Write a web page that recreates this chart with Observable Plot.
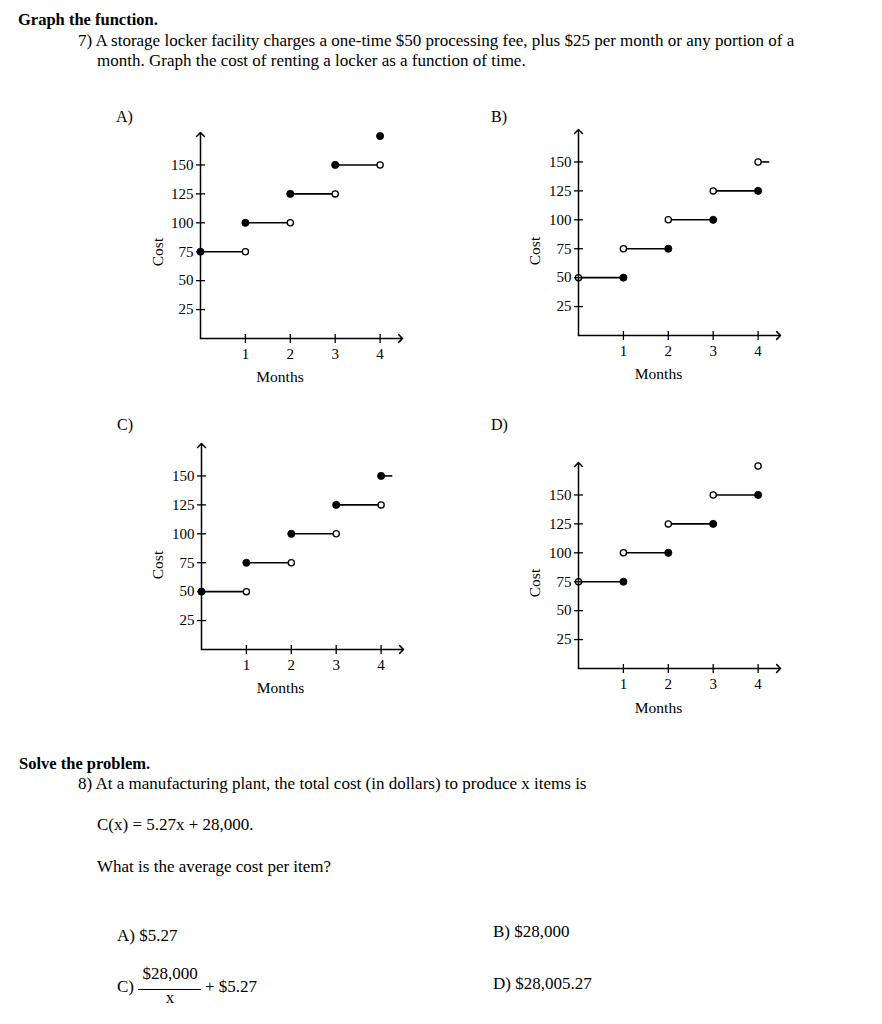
<!DOCTYPE html>
<html><head><meta charset="utf-8">
<script src="https://cdn.jsdelivr.net/npm/d3@7"></script>
<script src="https://cdn.jsdelivr.net/npm/@observablehq/plot@0.6"></script>
<style>
body{margin:0;background:#fff;}
#page{position:relative;width:882px;height:1024px;overflow:hidden;background:#fff;font-family:"Liberation Serif","Times New Roman",serif;color:#000;}
.t{position:absolute;white-space:nowrap;line-height:0;}
.c{position:absolute;white-space:nowrap;transform:translate(-50%,-50%);line-height:1;}
.chart{position:absolute;}
</style></head><body><div id="page"></div>
<script>
// ---- data ----
const monthTicks = [1, 2, 3, 4];
const costTicks = [25, 50, 75, 100, 125, 150];
const axisMaxMonths = 4.5;
const axisMaxCost = 178;

// [start month, end month, cost]
const aSteps = [[0,1,75],[1,2,100],[2,3,125],[3,4,150]];
const aClosed = [[0,75],[1,100],[2,125],[3,150],[4,175]];
const aOpen = [[1,75],[2,100],[3,125],[4,150]];

const bSteps = [[0,1,50],[1,2,75],[2,3,100],[3,4,125],[4,4.25,150]];
const bClosed = [[1,50],[2,75],[3,100],[4,125]];
const bOpen = [[0,50],[1,75],[2,100],[3,125],[4,150]];

const cSteps = [[0,1,50],[1,2,75],[2,3,100],[3,4,125],[4,4.25,150]];
const cClosed = [[0,50],[1,75],[2,100],[3,125],[4,150]];
const cOpen = [[1,50],[2,75],[3,100],[4,125]];

const dSteps = [[0,1,75],[1,2,100],[2,3,125],[3,4,150]];
const dClosed = [[1,75],[2,100],[3,125],[4,150]];
const dOpen = [[0,75],[1,100],[2,125],[3,150],[4,175]];

// ---- layout ----
const page = document.getElementById("page");
const INK = "#000";
const KX = 44.9, KY = 1.157;
const FONT = "Liberation Serif, Times New Roman, serif";

function txt(s, x, base, size, opts = {}) {
  const d = document.createElement("div");
  d.className = "t";
  d.textContent = s;
  d.style.left = x + "px";
  d.style.top = (base - 0.3375 * size) + "px";
  d.style.fontSize = size + "px";
  if (opts.bold) d.style.fontWeight = "bold";
  if (opts.center) d.style.transform = "translateX(-50%)";
  page.appendChild(d);
  return d;
}
function ctxt(s, cx, cy, size, rot) {
  const d = document.createElement("div");
  d.className = "c";
  d.textContent = s;
  d.style.left = cx + "px";
  d.style.top = cy + "px";
  d.style.fontSize = size + "px";
  if (rot) d.style.transform = "translate(-50%,-50%) rotate(-90deg)";
  page.appendChild(d);
}

const hTick = {draw(ctx) { ctx.moveTo(-4.5, 0); ctx.lineTo(4.5, 0); }};
const vTick = {draw(ctx) { ctx.moveTo(0, -4.5); ctx.lineTo(0, 4.5); }};

function chart(ox, oy, steps, closed, open) {
  const ml = 70, mb = 30, W = 290, H = 262;
  const mt = H - mb - axisMaxCost * KY;
  const mr = W - ml - axisMaxMonths * KX;
  const svg = Plot.plot({
    width: W, height: H,
    marginLeft: ml, marginRight: mr, marginTop: mt, marginBottom: mb,
    x: {domain: [0, axisMaxMonths]},
    y: {domain: [0, axisMaxCost]},
    style: {fontFamily: FONT, fontSize: "15px", color: INK, background: "transparent", overflow: "visible"},
    marks: [
      Plot.link(steps, {x1: d => d[0], x2: d => d[1], y1: d => d[2], y2: d => d[2], stroke: INK, strokeWidth: 1.6}),
      Plot.dot(closed, {x: d => d[0], y: d => d[1], r: 3.6, fill: INK, stroke: INK, strokeWidth: 0.8}),
      Plot.dot(open, {x: d => d[0], y: d => d[1], r: 3.1, fill: "white", stroke: INK, strokeWidth: 1.3}),
      Plot.arrow([0], {x1: 0, y1: 0, x2: 0, y2: axisMaxCost, stroke: INK, strokeWidth: 1.5, headLength: 5.5, headAngle: 90}),
      Plot.arrow([0], {x1: 0, y1: 0, x2: axisMaxMonths, y2: 0, stroke: INK, strokeWidth: 1.5, headLength: 5.5, headAngle: 90}),
      Plot.dot(costTicks, {x: 0, y: d => d, symbol: hTick, fill: "none", stroke: INK, strokeWidth: 1.3}),
      Plot.dot(monthTicks, {x: d => d, y: 0, symbol: vTick, fill: "none", stroke: INK, strokeWidth: 1.3}),
      Plot.axisX(monthTicks, {tickSize: 0, tickPadding: 10, label: null, fontSize: 15, fontFamily: FONT, fill: INK}),
      Plot.axisY(costTicks, {tickSize: 0, tickPadding: 7, label: null, fontSize: 15, fontFamily: FONT, fill: INK})
    ]
  });
  svg.classList.add("chart");
  svg.style.position = "absolute";
  svg.style.left = (ox - ml) + "px";
  svg.style.top = (oy - (H - mb)) + "px";
  page.appendChild(svg);
}

// ---- texts ----
const BODY = 17;
txt("Graph the function.", 18, 26, 16.5, {bold: true});
txt("7) A storage locker facility charges a one-time $50 processing fee, plus $25 per month or any portion of a", 78, 46.5, BODY);
txt("month. Graph the cost of renting a locker as a function of time.", 97, 67, BODY);

txt("A)", 116, 122, 16);
txt("B)", 491, 122, 16);
txt("C)", 117, 430, 16);
txt("D)", 491, 430, 16);

chart(200, 337.5, aSteps, aClosed, aOpen);
chart(577.7, 335, bSteps, bClosed, bOpen);
chart(200.7, 649.3, cSteps, cClosed, cOpen);
chart(578.3, 668.3, dSteps, dClosed, dOpen);

ctxt("Cost", 158, 252, 15.5, true);
ctxt("Cost", 535, 251, 15.5, true);
ctxt("Cost", 157.5, 565, 15.5, true);
ctxt("Cost", 535, 583, 15.5, true);
ctxt("Months", 280, 377, 15.5);
ctxt("Months", 658.5, 374, 15.5);
ctxt("Months", 280.5, 688, 15.5);
ctxt("Months", 658.5, 707.5, 15.5);

txt("Solve the problem.", 19, 770, 16.5, {bold: true});
txt("8) At a manufacturing plant, the total cost (in dollars) to produce x items is", 78, 790, BODY);
txt("C(x) = 5.27x + 28,000.", 97, 831, BODY);
txt("What is the average cost per item?", 97, 873, BODY);

txt("A) $5.27", 117, 941.5, BODY);
txt("B) $28,000", 493, 938, BODY);
txt("C)", 117, 993, BODY);
txt("$28,000", 170, 980, BODY, {center: true});
const bar = document.createElement("div");
bar.style.cssText = "position:absolute;left:138px;top:988.5px;width:63px;height:1.2px;background:#000;";
page.appendChild(bar);
txt("x", 170, 1004, BODY, {center: true});
txt("+ $5.27", 205, 993, BODY);
txt("D) $28,005.27", 493, 990, BODY);
</script></body></html>
